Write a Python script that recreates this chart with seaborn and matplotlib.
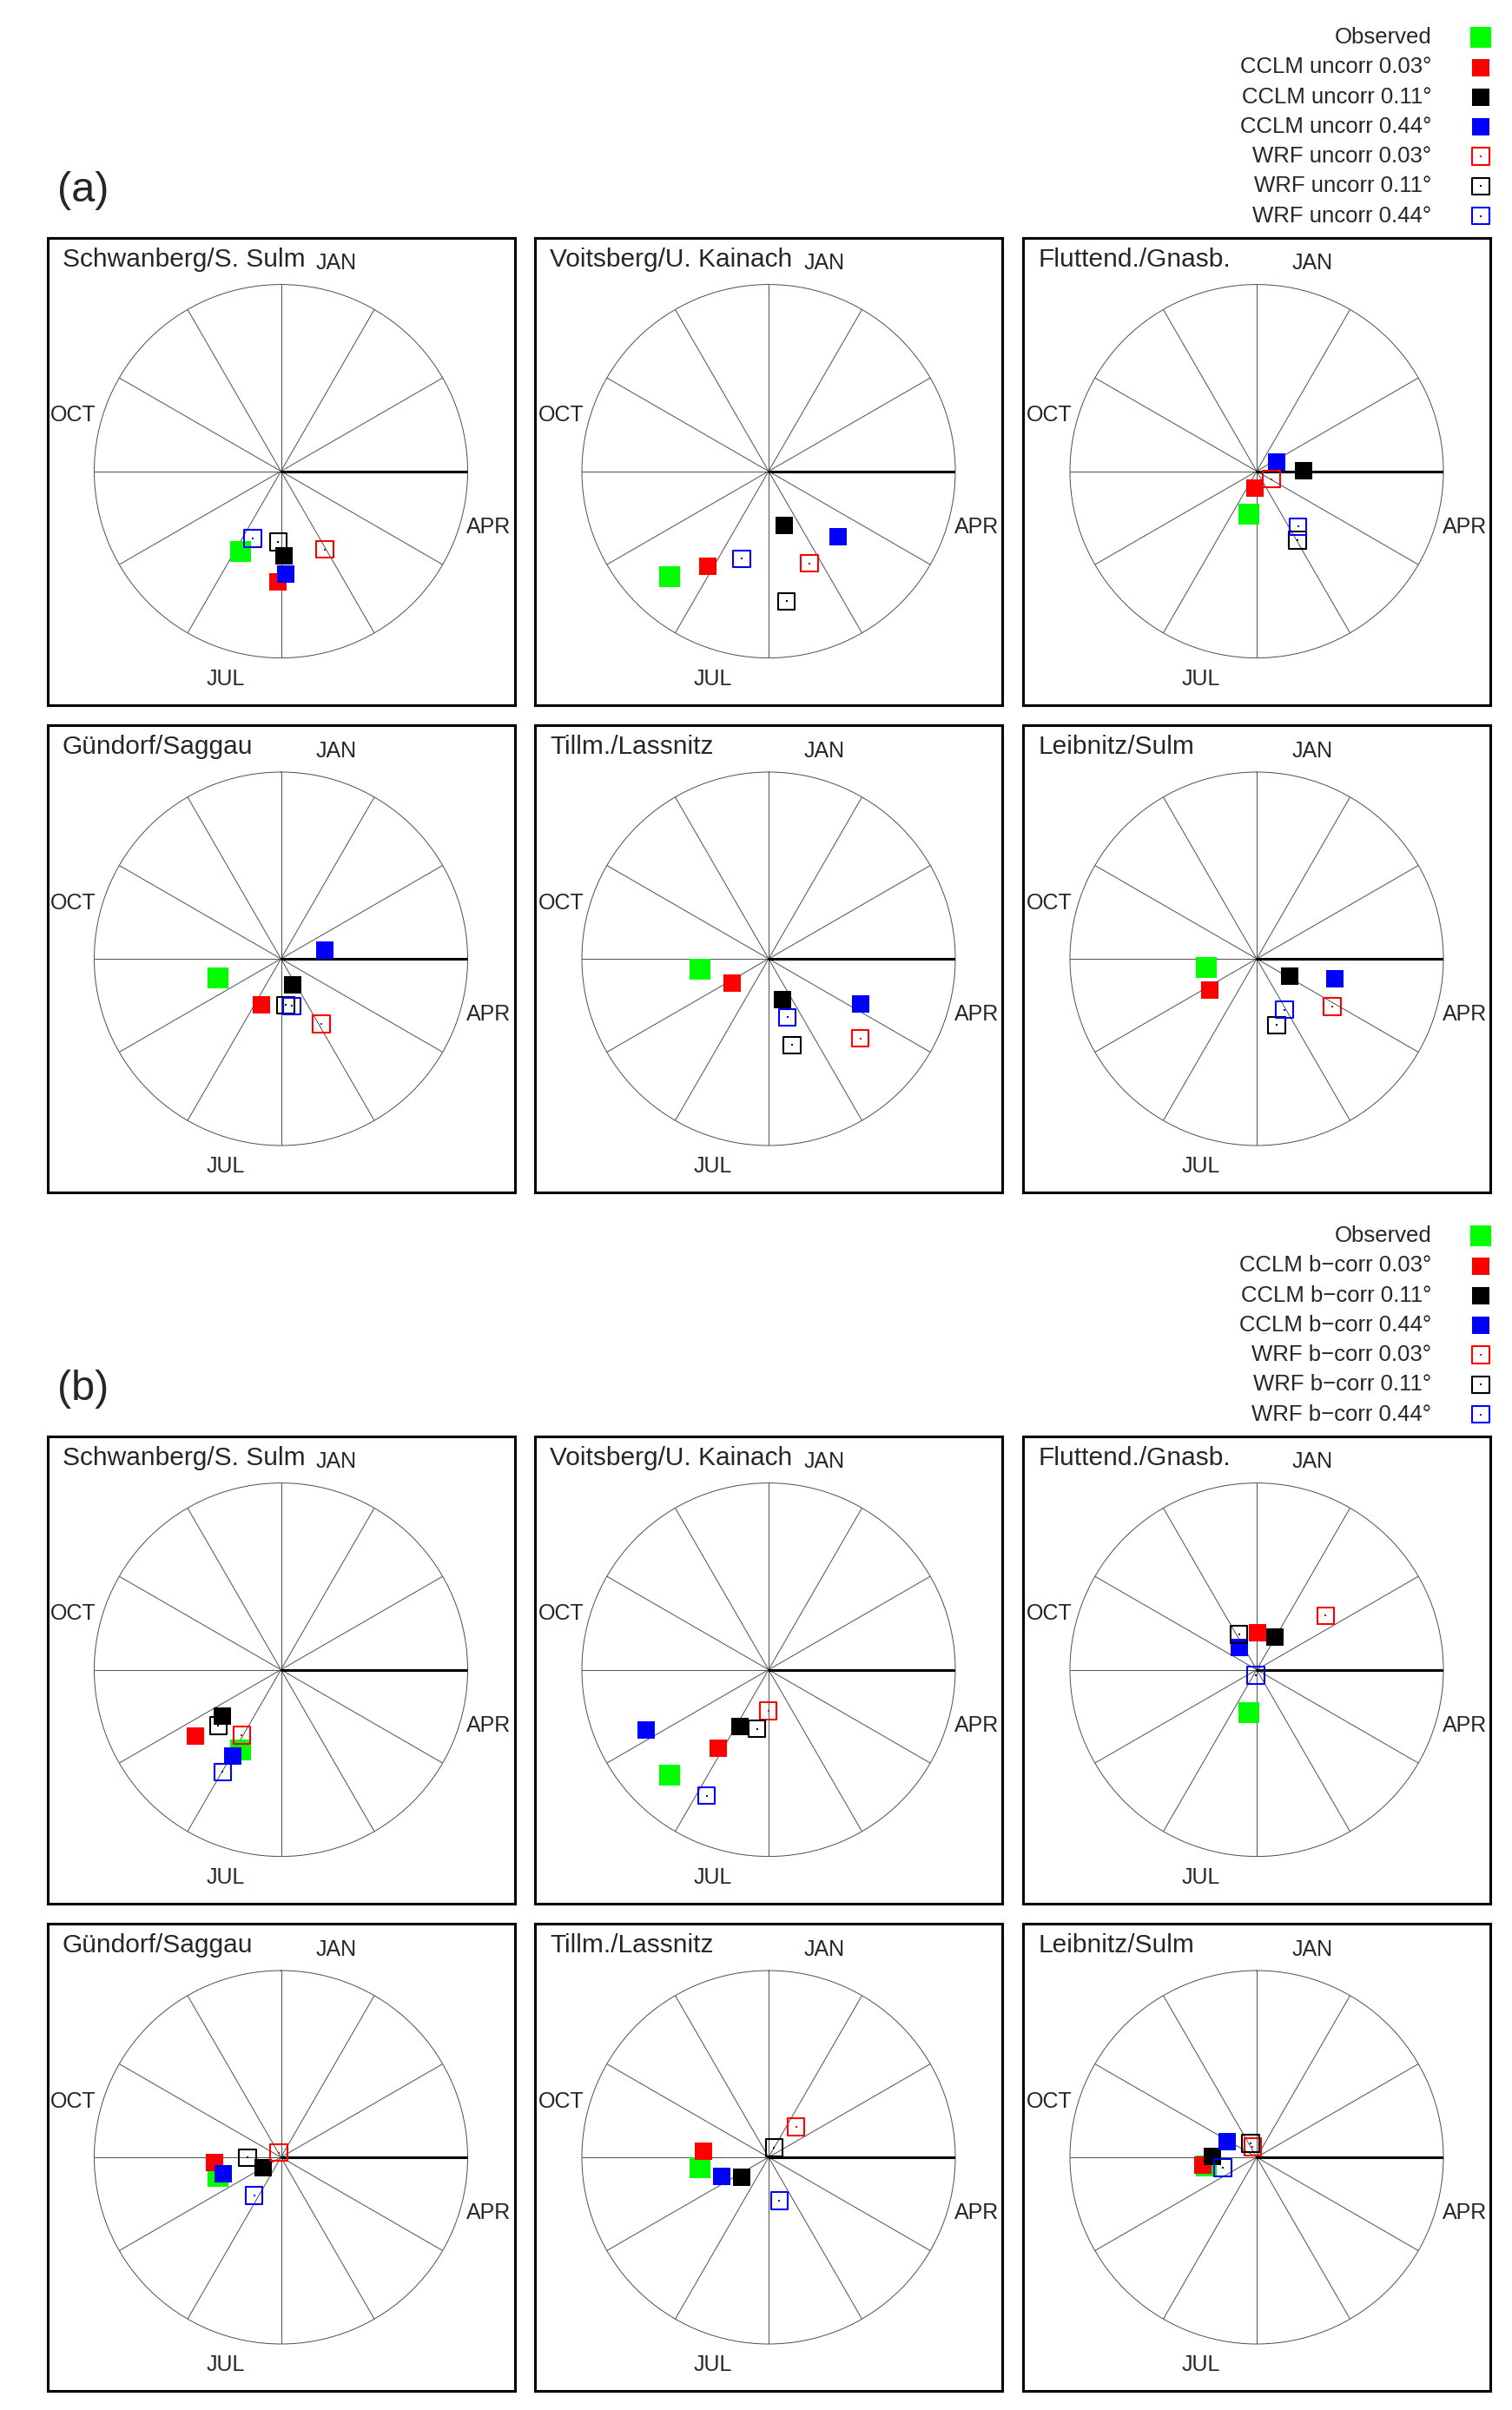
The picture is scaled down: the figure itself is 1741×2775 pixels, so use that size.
#%% imports
import numpy as np
import pandas as pd
import matplotlib
matplotlib.use("Agg")
import matplotlib.pyplot as plt
import seaborn as sns

sns.set_theme(style="white")
plt.rcParams['font.family'] = ['Liberation Sans', 'DejaVu Sans']

#%% data
stations = ["Schwanberg/S. Sulm", "Voitsberg/U. Kainach", "Fluttend./Gnasb.",
            "Gündorf/Saggau", "Tillm./Lassnitz", "Leibnitz/Sulm"]
months = ["JAN", "APR", "JUL", "OCT"]

# mean timing (deg clockwise from 1 Jan) and seasonality strength (0-1)
obs_deg = [206.9, 223.2, 190.0, 253.4, 261.3, 259.8]
obs_r = [0.481, 0.773, 0.232, 0.351, 0.372, 0.272]

# (a) uncorrected
unc_cclm003_deg = [181.6, 212.7, 184.4, 203.0, 236.4, 235.8]
unc_cclm003_r = [0.592, 0.602, 0.091, 0.268, 0.233, 0.301]
unc_cclm011_deg = [178.1, 164.0, 89.3, 156.3, 160.9, 117.6]
unc_cclm011_r = [0.451, 0.302, 0.251, 0.152, 0.230, 0.201]
unc_cclm044_deg = [177.4, 133.2, 64.1, 79.2, 116.0, 104.5]
unc_cclm044_r = [0.552, 0.509, 0.117, 0.240, 0.548, 0.431]
unc_wrf003_deg = [150.6, 156.1, 118.3, 148.3, 130.9, 122.3]
unc_wrf003_r = [0.480, 0.540, 0.089, 0.411, 0.650, 0.479]
unc_wrf011_deg = [182.3, 172.2, 149.5, 174.3, 164.7, 163.4]
unc_wrf011_r = [0.379, 0.703, 0.429, 0.250, 0.479, 0.371]
unc_wrf044_deg = [202.7, 197.0, 143.3, 167.0, 162.1, 151.4]
unc_wrf044_r = [0.391, 0.490, 0.370, 0.259, 0.329, 0.310]

# (b) bias corrected
bc_cclm003_deg = [232.1, 212.9, 0.9, 265.5, 275.3, 261.3]
bc_cclm003_r = [0.581, 0.500, 0.199, 0.359, 0.349, 0.292]
bc_cclm011_deg = [231.8, 206.6, 29.0, 240.2, 232.9, 271.0]
bc_cclm011_r = [0.401, 0.341, 0.198, 0.111, 0.181, 0.239]
bc_cclm044_deg = [209.3, 243.7, 322.8, 253.9, 247.8, 298.7]
bc_cclm044_r = [0.531, 0.733, 0.151, 0.321, 0.270, 0.179]
bc_wrf003_deg = [211.0, 180.5, 51.9, 334.4, 41.9, 338.6]
bc_wrf003_r = [0.408, 0.221, 0.469, 0.028, 0.220, 0.060]
bc_wrf011_deg = [228.3, 191.2, 333.2, 269.4, 30.0, 336.6]
bc_wrf011_r = [0.450, 0.323, 0.211, 0.179, 0.060, 0.081]
bc_wrf044_deg = [209.7, 206.2, 189.5, 215.2, 166.0, 253.1]
bc_wrf044_r = [0.631, 0.752, 0.030, 0.250, 0.240, 0.189]

green, red, black, blue = "#00ff00", "#ff0000", "#000000", "#0000ff"

# label, deg, r, colour, filled
block_a = [("Observed", obs_deg, obs_r, green, True),
           ("CCLM uncorr 0.03°", unc_cclm003_deg, unc_cclm003_r, red, True),
           ("CCLM uncorr 0.11°", unc_cclm011_deg, unc_cclm011_r, black, True),
           ("CCLM uncorr 0.44°", unc_cclm044_deg, unc_cclm044_r, blue, True),
           ("WRF uncorr 0.03°", unc_wrf003_deg, unc_wrf003_r, red, False),
           ("WRF uncorr 0.11°", unc_wrf011_deg, unc_wrf011_r, black, False),
           ("WRF uncorr 0.44°", unc_wrf044_deg, unc_wrf044_r, blue, False)]
block_b = [("Observed", obs_deg, obs_r, green, True),
           ("CCLM b\u2212corr 0.03°", bc_cclm003_deg, bc_cclm003_r, red, True),
           ("CCLM b\u2212corr 0.11°", bc_cclm011_deg, bc_cclm011_r, black, True),
           ("CCLM b\u2212corr 0.44°", bc_cclm044_deg, bc_cclm044_r, blue, True),
           ("WRF b\u2212corr 0.03°", bc_wrf003_deg, bc_wrf003_r, red, False),
           ("WRF b\u2212corr 0.11°", bc_wrf011_deg, bc_wrf011_r, black, False),
           ("WRF b\u2212corr 0.44°", bc_wrf044_deg, bc_wrf044_r, blue, False)]

#%% layout (pixels)
W, H = 1741, 2775
box = 538
rad = 215
cols_x = [54.5, 616, 1178]
rows_y = [273.6, 835]
shift_b = 1380

fig = plt.figure(figsize=(W / 100, H / 100), dpi=100)
fig.patch.set_facecolor("white")


def rect(x, y, w, h):
    return [x / W, 1 - (y + h) / H, w / W, h / H]


def draw_marks(ax, df, colour, filled, obs=False):
    if filled:
        sns.scatterplot(data=df, x="theta", y="r", ax=ax, marker="s",
                        s=310 if obs else 216, color=colour, edgecolor=colour,
                        linewidth=0, zorder=4, legend=False)
    else:
        sns.scatterplot(data=df, x="theta", y="r", ax=ax, marker="s", s=196,
                        color=colour, facecolor="none", edgecolor=colour,
                        linewidth=1.5, zorder=5, legend=False)
        sns.scatterplot(data=df, x="theta", y="r", ax=ax, marker="s", s=1.6,
                        color=colour, edgecolor=colour, linewidth=0,
                        zorder=5, legend=False)


lax = fig.add_axes([0, 0, 1, 1])
lax.set_xlim(0, W)
lax.set_ylim(H, 0)
lax.axis("off")

for b, (block, tag) in enumerate([(block_a, "(a)"), (block_b, "(b)")]):
    off = b * shift_b
    fig.text(66 / W, 1 - (220 + off) / H, tag, fontsize=35, va="center", ha="left")

    # legend
    for k, (label, deg, r, colour, filled) in enumerate(block):
        yy = 43.3 + 34.2 * k + off
        lax.text(1648, yy, label, fontsize=18.5, ha="right", va="center")
        leg = pd.DataFrame({"theta": [1705], "r": [yy]})
        draw_marks(lax, leg, colour, filled, obs=(k == 0))
    lax.set_xlabel("")
    lax.set_ylabel("")

    for i, name in enumerate(stations):
        x0 = cols_x[i % 3]
        y0 = rows_y[i // 3] + off
        bax = fig.add_axes(rect(x0, y0, box, box))
        bax.set_xticks([])
        bax.set_yticks([])
        for sp in bax.spines.values():
            sp.set_linewidth(2.2)
            sp.set_color("black")
        bax.text(0.0325, 0.938, name, transform=bax.transAxes, fontsize=21.5,
                 ha="left", va="baseline")

        cx, cy = x0 + box / 2, y0 + box / 2
        ax = fig.add_axes(rect(cx - rad, cy - rad, 2 * rad, 2 * rad), projection="polar")
        ax.set_theta_zero_location("N")
        ax.set_theta_direction(-1)
        ax.set_ylim(0, 1)
        ax.set_yticks([])
        ax.set_xticks(np.deg2rad(np.arange(0, 360, 30)))
        ax.set_xticklabels([])
        ax.xaxis.grid(True, color="#4d4d4d", linewidth=0.7)
        ax.spines["polar"].set_color("#4d4d4d")
        ax.spines["polar"].set_linewidth(0.7)
        ax.plot([np.pi / 2, np.pi / 2], [0, 1], color="black", lw=2.2, zorder=3)

        for m, name_m in enumerate(months):
            ax.text(np.deg2rad(15 + 90 * m), 1.152, name_m, fontsize=18,
                    ha="center", va="center", clip_on=False)

        for label, deg, r, colour, filled in block:
            df = pd.DataFrame({"theta": [np.deg2rad(deg[i])], "r": [r[i]]})
            draw_marks(ax, df, colour, filled, obs=(label == "Observed"))
        ax.set_xlabel("")
        ax.set_ylabel("")

fig.savefig("out.png", dpi=100, facecolor="white")
